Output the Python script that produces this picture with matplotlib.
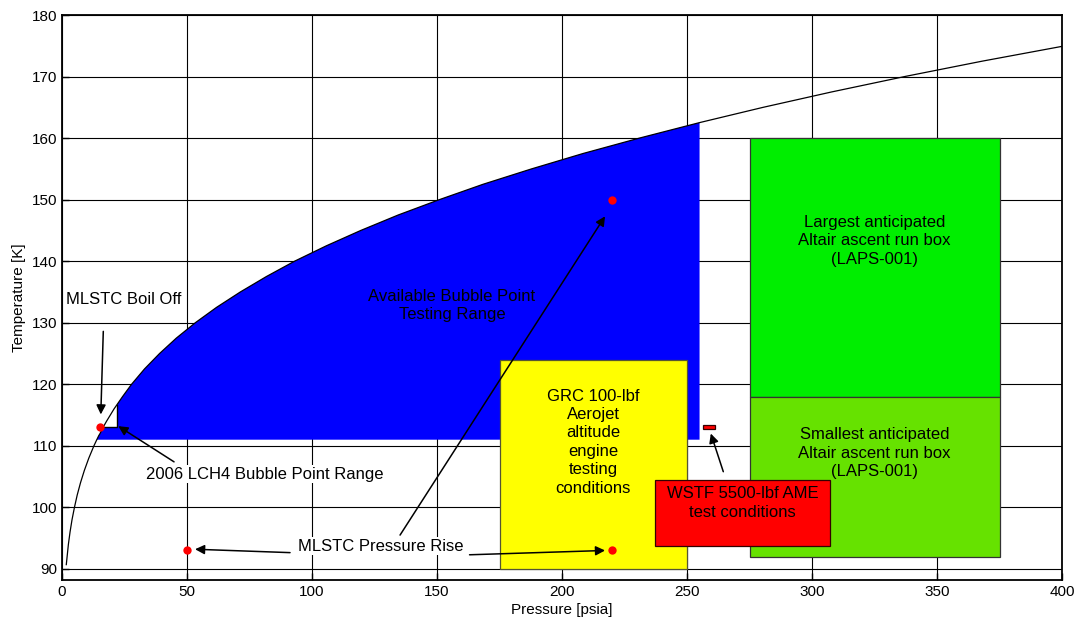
import numpy as np
import matplotlib.pyplot as plt
from matplotlib.patches import Rectangle, Polygon

# methane saturation line (pressure psia, temperature K)
sat_press = [1.70, 2.03, 2.54, 3.20, 3.99, 4.96, 6.06, 7.38, 8.92, 10.7, 12.75,
             13.9, 14.7, 15.2, 16.4, 17.8, 20.8, 24.2, 27.8, 33.0, 39.0, 45.7,
             53.3, 61.8, 71.3, 81.7, 93.0, 105.7, 119.5, 134.4, 150.9, 168.4,
             187.8, 208.4, 230.9, 254.8, 280.4, 307.8, 337.0, 368.0, 401.2]
sat_temp = [90.7, 92, 94, 96, 98, 100, 102, 104, 106, 108, 110,
            111, 111.67, 112, 113, 114, 116, 118, 120, 122.5, 125, 127.5,
            130, 132.5, 135, 137.5, 140, 142.5, 145, 147.5, 150, 152.5,
            155, 157.5, 160, 162.5, 165, 167.5, 170, 172.5, 175]

# available bubble point range: floor temperature, right pressure limit
bubble_floor = 111.0
bubble_pmax = 255.0
# 2006 LCH4 bubble point notch (temperature floor, pressure limit)
lch4_temp = 113.0
lch4_press = 22.0

# (p_min, p_max, T_min, T_max)
grc_box = (175, 250, 90, 124)
largest_box = (275, 375, 118, 160)
smallest_box = (275, 375, 92, 118)
wstf_box = (256.3, 261, 112.8, 113.4)
wstf_label_box = (237.2, 307.2, 93.7, 104.5)

# test points (psia, K)
pt_press = [15, 50, 220, 220]
pt_temp = [113, 93, 93, 150]

plt.rcParams['font.family'] = ['Liberation Sans', 'DejaVu Sans']
fig = plt.figure(figsize=(10.79, 6.21), dpi=100)
ax = fig.add_axes([0.0575, 0.066, 0.9268, 0.9098])

P = np.array(sat_press)
T = np.array(sat_temp)

# blue region under the saturation line, with the 2006 notch cut out
p_floor = np.interp(bubble_floor, T, P)
p_notch = np.interp(lch4_temp, T, P)
t_notch = np.interp(lch4_press, P, T)
t_top = np.interp(bubble_pmax, P, T)
verts = [(p_floor, bubble_floor)]
verts += [(p, t) for p, t in zip(P, T) if bubble_floor < t < lch4_temp]
verts += [(p_notch, lch4_temp), (lch4_press, lch4_temp), (lch4_press, t_notch)]
verts += [(p, t) for p, t in zip(P, T) if lch4_press < p < bubble_pmax]
verts += [(bubble_pmax, t_top), (bubble_pmax, bubble_floor)]
ax.add_patch(Polygon(verts, closed=True, facecolor='#0000ff',
                     edgecolor='none', zorder=2))
ax.plot([p_notch, lch4_press, lch4_press], [lch4_temp, lch4_temp, t_notch],
        color='black', lw=1.0, zorder=3)


def box(b, color, edge='#333333', z=2):
    ax.add_patch(Rectangle((b[0], b[2]), b[1] - b[0], b[3] - b[2],
                           facecolor=color, edgecolor=edge, lw=0.9, zorder=z))


box(grc_box, '#ffff00', edge='#555533')
box(largest_box, '#00ee00')
box(smallest_box, '#66e200')
box(wstf_box, '#ff0000', edge='#330000', z=3)
box(wstf_label_box, '#ff0000', edge='#330000', z=4)

ax.plot(P, T, color='black', lw=0.9, zorder=3)
ax.plot(pt_press, pt_temp, 'o', color='#ff0000', ms=6, mec='none', zorder=6)

tx = dict(fontsize=12, ha='center', va='center', linespacing=1.28, zorder=5)
ax.text(325, 143.3, 'Largest anticipated\nAltair ascent run box\n(LAPS-001)', **tx)
ax.text(325, 108.8, 'Smallest anticipated\nAltair ascent run box\n(LAPS-001)', **tx)
ax.text(212.5, 110.6, 'GRC 100-lbf\nAerojet\naltitude\nengine\ntesting\nconditions', **tx)
ax.text(272.2, 100.7, 'WSTF 5500-lbf AME\ntest conditions', **tx)
ax.text(156, 132.8, 'Available Bubble Point\nTesting Range', **tx)

bg = dict(facecolor='white', edgecolor='none', pad=1)
ax.text(1.6, 133.7, 'MLSTC Boil Off', fontsize=12, ha='left', va='center',
        bbox=bg, zorder=5)
ax.text(81.2, 105.4, '2006 LCH4 Bubble Point Range', fontsize=12,
        ha='center', va='center', bbox=bg, zorder=5)
ax.text(127.3, 93.7, 'MLSTC Pressure Rise', fontsize=12, ha='center',
        va='center', bbox=bg, zorder=5)

arrows = [((16.5, 128.6), (15.5, 115.1)),
          ((44.8, 107.4), (22.5, 113.2)),
          ((91.2, 92.65), (53.2, 93.2)),
          ((163.0, 92.3), (217.2, 93.0)),
          ((135.2, 95.5), (217.2, 147.3)),
          ((264.5, 105.8), (259.5, 112.0))]
for tail, head in arrows:
    ax.annotate('', xy=head, xytext=tail, zorder=7,
                arrowprops=dict(arrowstyle='-|>', color='black', lw=1.1,
                                mutation_scale=14, shrinkA=0, shrinkB=0))

ax.set_xlim(0, 400)
ax.set_ylim(88.2, 180)
ax.set_xticks(np.arange(0, 401, 50))
ax.set_yticks(np.arange(90, 181, 10))
ax.set_axisbelow(True)
ax.grid(True, color='black', lw=0.8)
ax.tick_params(direction='in', length=5, labelsize=11, width=1)
for s in ax.spines.values():
    s.set_linewidth(1.3)
ax.set_xlabel('Pressure [psia]', fontsize=11, labelpad=3)
ax.set_ylabel('Temperature [K]', fontsize=11, labelpad=4)

fig.savefig('out.png', dpi=100)
